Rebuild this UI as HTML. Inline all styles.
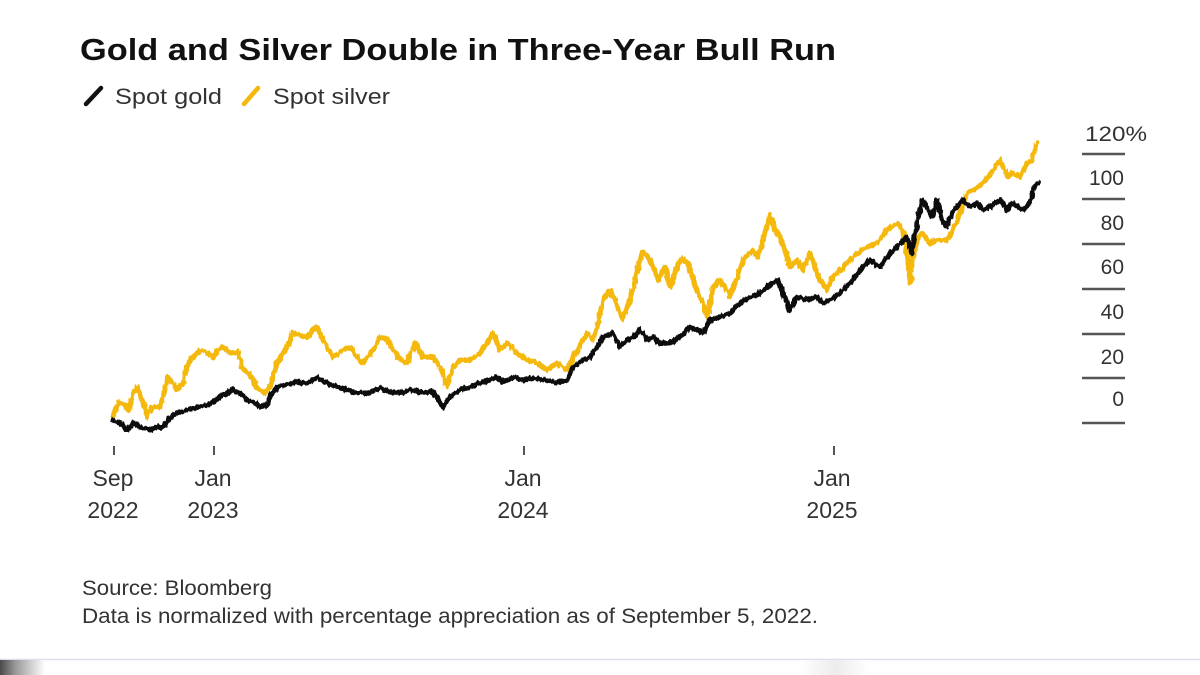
<!DOCTYPE html>
<html>
<head>
<meta charset="utf-8">
<style>
  html,body{margin:0;padding:0;background:#fff;}
  svg{display:block;}
  text{font-family:"Liberation Sans",Arial,sans-serif;}
</style>
</head>
<body>
<svg width="1200" height="675" viewBox="0 0 1200 675" xmlns="http://www.w3.org/2000/svg">
  <defs>
    <linearGradient id="cornerg" x1="0" y1="0" x2="1" y2="0">
      <stop offset="0" stop-color="#4a4a4a"/>
      <stop offset="0.35" stop-color="#9a9a9a"/>
      <stop offset="1" stop-color="#ffffff"/>
    </linearGradient>
    <linearGradient id="midg" x1="0" y1="0" x2="1" y2="0">
      <stop offset="0" stop-color="#ffffff"/>
      <stop offset="0.5" stop-color="#ececec"/>
      <stop offset="1" stop-color="#ffffff"/>
    </linearGradient>
    <filter id="jit" x="-5%" y="-10%" width="110%" height="120%">
      <feTurbulence type="fractalNoise" baseFrequency="0.35 0.12" numOctaves="2" seed="7" result="n"/>
      <feDisplacementMap in="SourceGraphic" in2="n" scale="5" xChannelSelector="R" yChannelSelector="G"/>
    </filter>
  </defs>
  <rect x="0" y="0" width="1200" height="675" fill="#ffffff"/>

  <!-- Title -->
  <text x="80" y="60" font-size="31" font-weight="bold" fill="#111" textLength="756" lengthAdjust="spacingAndGlyphs">Gold and Silver Double in Three-Year Bull Run</text>

  <!-- Legend -->
  <line x1="86" y1="104" x2="101" y2="88" stroke="#111" stroke-width="4.5" stroke-linecap="round"/>
  <text x="115" y="104" font-size="22" fill="#333" textLength="107" lengthAdjust="spacingAndGlyphs">Spot gold</text>
  <line x1="244" y1="104" x2="258" y2="88" stroke="#f5b80c" stroke-width="4.5" stroke-linecap="round"/>
  <text x="273" y="104" font-size="22" fill="#333" textLength="117" lengthAdjust="spacingAndGlyphs">Spot silver</text>

  <!-- Y axis gridline ticks -->
  <g stroke="#555" stroke-width="2.4">
    <line x1="1082" y1="154" x2="1125" y2="154"/>
    <line x1="1082" y1="199" x2="1125" y2="199"/>
    <line x1="1082" y1="244" x2="1125" y2="244"/>
    <line x1="1082" y1="289" x2="1125" y2="289"/>
    <line x1="1082" y1="334" x2="1125" y2="334"/>
    <line x1="1082" y1="378" x2="1125" y2="378"/>
    <line x1="1082" y1="423" x2="1125" y2="423"/>
  </g>
  <g font-size="21" fill="#333">
    <text x="1085" y="141" textLength="62" lengthAdjust="spacingAndGlyphs">120%</text>
    <text x="1124" y="185" text-anchor="end">100</text>
    <text x="1124" y="230" text-anchor="end">80</text>
    <text x="1124" y="274" text-anchor="end">60</text>
    <text x="1124" y="319" text-anchor="end">40</text>
    <text x="1124" y="364" text-anchor="end">20</text>
    <text x="1124" y="406" text-anchor="end">0</text>
  </g>

  <!-- X axis ticks -->
  <g stroke="#555" stroke-width="2">
    <line x1="114" y1="446" x2="114" y2="455"/>
    <line x1="214" y1="446" x2="214" y2="455"/>
    <line x1="524" y1="446" x2="524" y2="455"/>
    <line x1="834" y1="446" x2="834" y2="455"/>
  </g>
  <g font-size="23" fill="#333" text-anchor="middle">
    <text x="113" y="486">Sep</text>
    <text x="113" y="518">2022</text>
    <text x="213" y="486">Jan</text>
    <text x="213" y="518">2023</text>
    <text x="523" y="486">Jan</text>
    <text x="523" y="518">2024</text>
    <text x="832" y="486">Jan</text>
    <text x="832" y="518">2025</text>
  </g>

  <!-- Silver series -->
  <polyline filter="url(#jit)" fill="none" stroke="#f5b80c" stroke-width="5" stroke-linejoin="round" stroke-linecap="round"
    points="113,417 118,402 122,404 125,405 128,410 133,395 137,387 142,400 147,417 152,407 160,407 163,397 168,377 172,382 177,390 183,383 188,363 193,357 197,353 202,350 207,353 213,357 218,350 223,347 230,353 238,352 242,367 248,373 257,387 265,393 270,387 277,363 287,347 293,333 300,335 307,337 313,330 317,327 323,340 333,357 343,350 350,347 357,357 363,363 373,350 380,337 388,340 397,357 407,363 415,343 423,357 433,357 440,367 447,387 453,367 460,360 470,360 480,353 487,343 493,333 500,350 507,343 517,353 527,360 537,363 547,370 557,363 567,370 577,350 587,333 593,340 597,327 603,300 610,290 615,300 622,320 627,307 633,290 638,267 643,252 648,257 653,267 658,280 665,267 670,287 677,267 682,258 688,263 692,277 697,290 703,303 707,317 713,287 720,280 727,290 730,297 737,277 745,257 753,250 758,258 763,240 770,215 775,230 780,237 785,250 790,267 797,260 803,270 810,253 815,267 820,280 827,290 833,277 843,267 853,257 857,253 867,247 877,243 887,230 897,223 903,230 908,260 910,283 913,257 917,240 922,233 930,243 937,240 947,240 953,230 960,213 967,193 973,190 983,183 993,170 1000,160 1007,177 1013,173 1020,177 1027,163 1032,160 1037,143"/>

  <!-- Gold series -->
  <polyline filter="url(#jit)" fill="none" stroke="#111" stroke-width="5" stroke-linejoin="round" stroke-linecap="round"
    points="113,420 120,423 127,430 133,423 140,427 150,430 158,427 163,427 170,417 177,413 187,410 197,407 207,405 213,402 220,397 227,393 233,390 240,393 247,400 255,403 260,407 267,405 270,397 277,387 287,385 297,382 307,383 317,378 327,383 337,387 347,390 357,393 367,393 380,388 390,392 400,393 410,390 420,392 433,392 443,407 450,397 460,390 470,387 480,383 490,380 497,377 503,382 513,377 523,380 533,378 547,380 557,383 567,380 573,367 583,360 590,357 597,347 603,337 613,333 620,347 627,340 633,337 640,330 647,340 653,337 660,343 670,343 680,337 690,327 697,330 703,333 710,320 720,317 730,313 740,303 750,297 760,293 767,287 777,280 783,293 790,310 797,297 807,300 817,297 823,303 830,300 840,293 850,283 860,270 870,260 880,267 887,257 897,247 907,237 912,253 917,223 922,200 927,207 932,217 937,200 942,220 947,227 952,213 957,207 963,200 970,207 977,203 983,210 990,207 1000,200 1007,210 1013,203 1023,210 1030,203 1033,190 1038,183"/>

  <!-- Footer -->
  <text x="82" y="595" font-size="21" fill="#333" textLength="190" lengthAdjust="spacingAndGlyphs">Source: Bloomberg</text>
  <text x="82" y="623" font-size="21" fill="#333" textLength="736" lengthAdjust="spacingAndGlyphs">Data is normalized with percentage appreciation as of September 5, 2022.</text>

  <!-- Bottom strip -->
  <line x1="0" y1="659.5" x2="1200" y2="659.5" stroke="#e2dde8" stroke-width="1.5"/>
  <rect x="0" y="660" width="45" height="15" fill="url(#cornerg)"/>
  <rect x="800" y="660" width="70" height="15" fill="url(#midg)"/>
</svg>
</body>
</html>
